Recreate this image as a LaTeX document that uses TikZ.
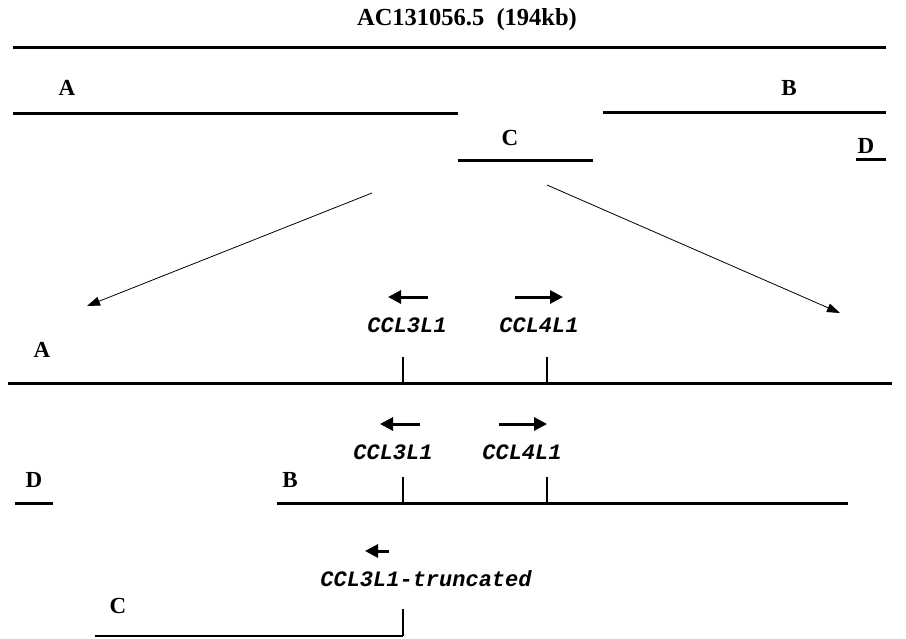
\documentclass[tikz,border=0pt]{standalone}
\usepackage{fontspec}
\setmainfont{Liberation Serif}
\setmonofont{Liberation Mono}
\usetikzlibrary{arrows.meta,positioning}
\newcommand{\contig}[4]{\draw[contig] (#1,#3) coordinate (#4 l) -- (#2,#3) coordinate (#4 r)}
\newcommand{\genetick}[3]{\draw[tick] (#1,#2) coordinate (#3 top) -- (#1,#2+26) coordinate (#3 bot)}
\tikzset{
  contig/.style={line width=3pt},
  lbl/.style={font=\fontsize{23}{26}\selectfont\bfseries},
  genelbl/.style={font=\fontsize{22}{25}\selectfont\ttfamily\bfseries\itshape},
  dir/.style={line width=3pt,-{Triangle[length=13pt,width=13pt]}},
  zoomarrow/.style={line width=0.8pt,-{Triangle[length=13pt,width=9pt]}},
  tick/.style={line width=2pt}
}

\begin{document}
\begin{tikzpicture}[x=1pt,y=-1pt]
    \useasboundingbox (0,0) rectangle (906,638);
    \node[lbl,font=\fontsize{24.5}{28}\selectfont\bfseries] (title) at (467,20) {AC131056.5\ \ (194kb)};
    \contig{13}{886}{47}{clone};
    % contigs of the clone
    \node[lbl] (A1) at (67,88) {A};
    \contig{13}{458}{113}{ctgA};
    \node[lbl] (B1) at (789,88) {B};
    \contig{603}{886}{112}{ctgB};
    \node[lbl] (C1) at (510,138) {C};
    \contig{458}{593}{160}{ctgC};
    \node[lbl] (D1) at (866,146) {D};
    \contig{856}{886}{159}{ctgD};
    \coordinate (zoom1) at (372,193);
    \coordinate (zoom2) at (547,185);
    \coordinate (end1) at (87,306);
    \coordinate (end2) at (840,313);
    \draw[zoomarrow] (zoom1) -- (end1);
    \draw[zoomarrow] (zoom2) -- (end2);
    % contig A
    \node[lbl] (A2) at (42,350) {A};
    \contig{8}{892}{383}{lineA};
    \genetick{403}{357}{a3};
    \genetick{547}{357}{a4};
    \draw[dir] (428,297) -- (388,297);
    \draw[dir] (515,297) -- (563,297);
    \node[genelbl] (a3lbl) at (407,325) {CCL3L1};
    \node[genelbl] (a4lbl) at (539,325) {CCL4L1};
    % contigs D and B
    \node[lbl] (D2) at (34,480) {D};
    \contig{15}{53}{503}{lineD};
    \node[lbl] (B2) at (290,480) {B};
    \contig{277}{848}{503}{lineB};
    \genetick{403}{477}{b3};
    \genetick{547}{477}{b4};
    \draw[dir] (420,424) -- (380,424);
    \draw[dir] (499,424) -- (547,424);
    \node[genelbl] (b3lbl) at (393,452) {CCL3L1};
    \node[genelbl] (b4lbl) at (522,452) {CCL4L1};
    % contig C
    \draw[dir] (389,551) -- (365,551);
    \node[genelbl] (c3lbl) at (426,579) {CCL3L1-truncated};
    \node[lbl] (C2) at (118,606) {C};
    \draw[line width=1.5pt] (95,636) -- (403,636) coordinate (c3 bot);
    \draw[tick] (c3 bot) -- (403,609);
\end{tikzpicture}
\end{document}
